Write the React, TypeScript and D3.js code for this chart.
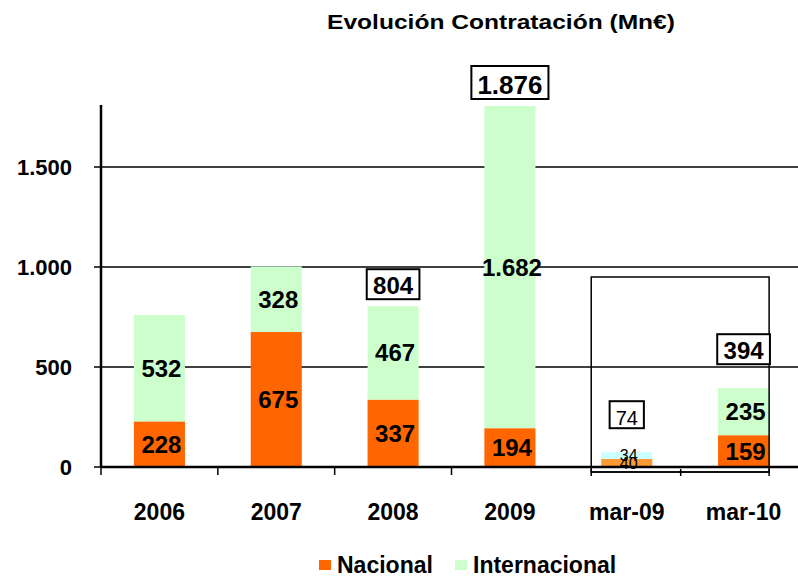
import { useEffect, useRef } from "react";
import * as d3 from "d3";

const CATEGORIES = ["2006", "2007", "2008", "2009", "mar-09", "mar-10"];
const NACIONAL = [228, 675, 337, 194, 40, 159];
const INTERNACIONAL = [532, 328, 467, 1682, 34, 235];
const TOTALS = [760, 1003, 804, 1876, 74, 394];
const SHOW_TOTAL = ["2008", "2009", "mar-09", "mar-10"];
const Y_TICKS = [0, 500, 1000, 1500];
const SERIES = ["Nacional", "Internacional"];

const TITLE = "Evolución Contratación (Mn€)";
const FONT = "'Liberation Sans', Arial, sans-serif";

const COLORS = { Nacional: "#ff6600", Internacional: "#ccffcc" };
// the mar-09 bar is drawn in lighter tones in the original
const MAR09_COLORS = { Nacional: "#ff9933", Internacional: "#ccffff" };

const WIDTH = 798;
const HEIGHT = 577;

export default function App() {
  const svgRef = useRef<SVGSVGElement>(null);

  useEffect(() => {
    if (!svgRef.current) return;
    const svg = d3.select(svgRef.current);
    svg.selectAll("*").remove();

    const plot = { left: 101, right: 802, top: 105, bottom: 467 };

    const loc = d3.formatLocale({
      decimal: ",",
      thousands: ".",
      grouping: [3],
      currency: ["", "€"],
    });
    const fmt = loc.format(",d");

    const x = d3
      .scaleBand<string>()
      .domain(CATEGORIES)
      .range([plot.left, plot.right])
      .paddingInner(0.563)
      .paddingOuter(0.2815);

    const y = d3.scaleLinear().domain([0, 1810]).range([plot.bottom, plot.top]);

    // Title
    svg
      .append("text")
      .attr("transform", `translate(501,29) scale(1.17,1)`)
      .attr("text-anchor", "middle")
      .attr("font-family", FONT)
      .attr("font-weight", "bold")
      .attr("font-size", 21)
      .text(TITLE);

    // gridlines
    svg
      .append("g")
      .selectAll("line")
      .data(Y_TICKS.filter((d) => d > 0))
      .join("line")
      .attr("x1", plot.left)
      .attr("x2", WIDTH)
      .attr("y1", (d) => y(d))
      .attr("y2", (d) => y(d))
      .attr("stroke", "#000")
      .attr("stroke-width", 1.5);

    // stacked bars
    svg
      .append("defs")
      .append("clipPath")
      .attr("id", "plotclip")
      .append("rect")
      .attr("x", 0)
      .attr("y", plot.top + 1)
      .attr("width", WIDTH)
      .attr("height", plot.bottom - plot.top);

    const rows = CATEGORIES.map((c, i) => ({
      cat: c,
      Nacional: NACIONAL[i],
      Internacional: INTERNACIONAL[i],
    }));
    const stack = d3.stack<any>().keys(SERIES)(rows);

    const barsG = svg.append("g").attr("clip-path", "url(#plotclip)");
    stack.forEach((layer) => {
      barsG
        .append("g")
        .selectAll("rect")
        .data(layer)
        .join("rect")
        .attr("x", (d) => x(d.data.cat)!)
        .attr("width", x.bandwidth())
        .attr("y", (d) => y(d[1]))
        .attr("height", (d) => y(d[0]) - y(d[1]))
        .attr("fill", (d) =>
          d.data.cat === "mar-09"
            ? (MAR09_COLORS as any)[layer.key]
            : (COLORS as any)[layer.key]
        );
    });

    // segment labels
    stack.forEach((layer) => {
      svg
        .append("g")
        .selectAll("text")
        .data(layer)
        .join("text")
        .attr("x", (d) => x(d.data.cat)! + x.bandwidth() / 2 + 2)
        .attr("y", (d) => {
          const top = Math.max(y(d[1]), plot.top + 1);
          return (top + y(d[0])) / 2;
        })
        .attr("text-anchor", "middle")
        .attr("dominant-baseline", "central")
        .attr("font-family", FONT)
        .attr("font-weight", (d) => (d.data.cat === "mar-09" ? "normal" : "bold"))
        .attr("font-size", (d) => (d.data.cat === "mar-09" ? 16 : 24))
        .text((d) => fmt((d.data as any)[layer.key]));
    });

    // y axis
    svg
      .append("line")
      .attr("x1", plot.left)
      .attr("x2", plot.left)
      .attr("y1", plot.top)
      .attr("y2", plot.bottom)
      .attr("stroke", "#000")
      .attr("stroke-width", 2.5);
    const yt = svg.append("g");
    yt.selectAll("line")
      .data(Y_TICKS)
      .join("line")
      .attr("x1", plot.left - 7)
      .attr("x2", plot.left)
      .attr("y1", (d) => y(d))
      .attr("y2", (d) => y(d))
      .attr("stroke", "#000")
      .attr("stroke-width", 1.5);
    yt.selectAll("text")
      .data(Y_TICKS)
      .join("text")
      .attr("x", 72)
      .attr("y", (d) => y(d))
      .attr("text-anchor", "end")
      .attr("dominant-baseline", "central")
      .attr("font-family", FONT)
      .attr("font-weight", "bold")
      .attr("font-size", 22)
      .text((d) => fmt(d));

    // x axis
    svg
      .append("line")
      .attr("x1", plot.left)
      .attr("x2", WIDTH)
      .attr("y1", plot.bottom)
      .attr("y2", plot.bottom)
      .attr("stroke", "#000")
      .attr("stroke-width", 2.5);
    const bounds = d3.range(CATEGORIES.length - 2).map((i) => plot.left + i * x.step());
    svg
      .append("g")
      .selectAll("line")
      .data(bounds)
      .join("line")
      .attr("x1", (d) => d)
      .attr("x2", (d) => d)
      .attr("y1", plot.bottom)
      .attr("y2", plot.bottom + 8)
      .attr("stroke", "#000")
      .attr("stroke-width", 1.5);
    svg
      .append("g")
      .selectAll("text")
      .data(CATEGORIES)
      .join("text")
      .attr("x", (d) => x(d)! + x.bandwidth() / 2)
      .attr("y", 520)
      .attr("text-anchor", "middle")
      .attr("font-family", FONT)
      .attr("font-weight", "bold")
      .attr("font-size", 23)
      .text((d) => d);

    // inset frame around the quarterly comparison
    const fx0 = x("mar-09")! - 10;
    const fx1 = x("mar-10")! + x.bandwidth();
    const fy0 = y(950);
    const fy1 = plot.bottom + 5;
    const frame = svg.append("g").attr("fill", "none").attr("stroke", "#000");
    frame
      .append("rect")
      .attr("x", fx0)
      .attr("y", fy0)
      .attr("width", fx1 - fx0)
      .attr("height", fy1 - fy0)
      .attr("stroke-width", 1.5);
    frame
      .append("line")
      .attr("x1", fx0)
      .attr("x2", fx1)
      .attr("y1", fy1)
      .attr("y2", fy1)
      .attr("stroke-width", 1.5);
    frame
      .selectAll(".ft")
      .data([fx0, (fx0 + fx1) / 2 + 0.5, fx1])
      .join("line")
      .attr("x1", (d) => d)
      .attr("x2", (d) => d)
      .attr("y1", fy1 - 3)
      .attr("y2", fy1 + 4)
      .attr("stroke-width", 1.5);

    // totals in boxes
    const totalsG = svg.append("g");
    CATEGORIES.forEach((c, i) => {
      if (!SHOW_TOTAL.includes(c)) return;
      const small = c === "mar-09";
      const inset = c.startsWith("mar");
      const barTop = Math.max(y(TOTALS[i]), plot.top + 1);
      const bottom = barTop - (inset ? 24 : 7);
      const cx = x(c)! + x.bandwidth() / 2;
      const g = totalsG.append("g");
      const t = g
        .append("text")
        .attr("x", cx)
        .attr("text-anchor", "middle")
        .attr("font-family", FONT)
        .attr("font-weight", small ? "normal" : "bold")
        .attr("font-size", small ? 20 : c === "2009" ? 26 : 24)
        .text(fmt(TOTALS[i]));
      const bb = (t.node() as SVGTextElement).getBBox();
      const boxH = small ? 27 : bb.height + 3;
      const boxW = bb.width + 12;
      t.attr("y", bottom - (small ? 3 : 5));
      g.insert("rect", "text")
        .attr("x", cx - boxW / 2)
        .attr("y", bottom - boxH)
        .attr("width", boxW)
        .attr("height", boxH)
        .attr("fill", "#fff")
        .attr("stroke", "#000")
        .attr("stroke-width", 2);
    });

    // legend
    const legend = svg.append("g").attr("transform", "translate(319,560)");
    const items = [
      { key: "Nacional", x: 0 },
      { key: "Internacional", x: 136 },
    ];
    const li = legend
      .selectAll("g")
      .data(items)
      .join("g")
      .attr("transform", (d) => `translate(${d.x},0)`);
    li.append("rect")
      .attr("width", 12)
      .attr("height", 10)
      .attr("fill", (d) => (COLORS as any)[d.key]);
    li.append("text")
      .attr("x", 18)
      .attr("y", 13)
      .attr("font-family", FONT)
      .attr("font-weight", "bold")
      .attr("font-size", 23)
      .text((d) => d.key);
  }, []);

  return (
    <svg
      ref={svgRef}
      width={WIDTH}
      height={HEIGHT}
      style={{ position: "absolute", left: 0, top: 0, background: "#fff" }}
    />
  );
}
